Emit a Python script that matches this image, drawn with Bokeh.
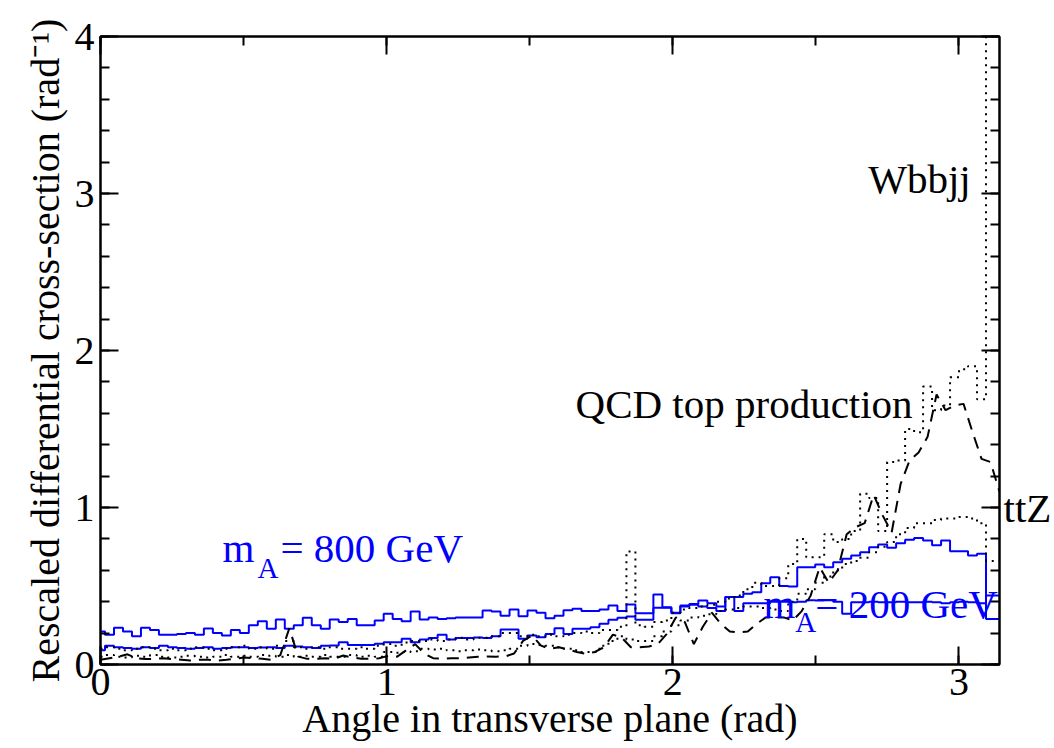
import numpy as np
from bokeh.plotting import figure
from bokeh.models import (Range1d, LinearAxis, Label, FixedTicker, ColumnDataSource,
                          CustomJSTickFormatter)
from bokeh.embed import file_html
from bokeh.resources import INLINE

# ---------------- data ----------------
n_bins = 101  # bins centred on k*pi/100
bin_centres = [k * np.pi / 100 for k in range(n_bins)]

signal_800 = [
    0.21, 0.19, 0.234, 0.21, 0.18, 0.234, 0.22, 0.19, 0.19, 0.195,
    0.20, 0.19, 0.23, 0.20, 0.185, 0.22, 0.20, 0.25, 0.275, 0.227,
    0.287, 0.227, 0.25, 0.297, 0.25, 0.227, 0.287, 0.27, 0.29, 0.25,
    0.25, 0.28, 0.323, 0.29, 0.275, 0.338, 0.287, 0.30, 0.29, 0.295,
    0.30, 0.30, 0.30, 0.344, 0.338, 0.31, 0.35, 0.308, 0.344, 0.33,
    0.295, 0.31, 0.345, 0.355, 0.34, 0.34, 0.35, 0.376, 0.34, 0.382,
    0.327, 0.327, 0.446, 0.365, 0.327, 0.376, 0.386, 0.408, 0.39, 0.37,
    0.43, 0.43, 0.45, 0.46, 0.518, 0.556, 0.50, 0.497, 0.62, 0.62,
    0.637, 0.62, 0.652, 0.673, 0.694, 0.715, 0.747, 0.764, 0.743, 0.773,
    0.794, 0.805, 0.79, 0.76, 0.79, 0.722, 0.722, 0.694, 0.705, 0.29,
    0.29,
]

signal_200 = [
    0.09, 0.12, 0.11, 0.105, 0.10, 0.11, 0.105, 0.12, 0.11, 0.105,
    0.10, 0.105, 0.11, 0.10, 0.105, 0.11, 0.11, 0.105, 0.108, 0.11,
    0.105, 0.12, 0.115, 0.11, 0.105, 0.12, 0.121, 0.142, 0.125, 0.125,
    0.125, 0.132, 0.142, 0.142, 0.164, 0.142, 0.159, 0.168, 0.189, 0.159,
    0.168, 0.168, 0.172, 0.168, 0.18, 0.223, 0.223, 0.164, 0.185, 0.174,
    0.195, 0.231, 0.195, 0.227, 0.227, 0.238, 0.259, 0.285, 0.297, 0.306,
    0.285, 0.285, 0.361, 0.361, 0.33, 0.37, 0.38, 0.37, 0.36, 0.34,
    0.43, 0.34, 0.39, 0.39, 0.39, 0.40, 0.40, 0.397, 0.40, 0.41,
    0.408, 0.41, 0.40, 0.323, 0.397, 0.397, 0.40, 0.397, 0.397, 0.40,
    0.397, 0.397, 0.40, 0.397, 0.39, 0.397, 0.40, 0.397, 0.39, 0.44,
    0.44,
]

wbbjj = [
    0.10, 0.11, 0.10, 0.09, 0.10, 0.11, 0.10, 0.09, 0.10, 0.09,
    0.10, 0.11, 0.10, 0.09, 0.10, 0.11, 0.12, 0.10, 0.11, 0.10,
    0.12, 0.15, 0.11, 0.10, 0.11, 0.10, 0.11, 0.10, 0.10, 0.11,
    0.10, 0.12, 0.13, 0.12, 0.14, 0.15, 0.15, 0.16, 0.15, 0.16,
    0.17, 0.16, 0.17, 0.17, 0.18, 0.20, 0.20, 0.18, 0.19, 0.18,
    0.19, 0.18, 0.19, 0.20, 0.21, 0.20, 0.22, 0.22, 0.24, 0.72,
    0.25, 0.24, 0.27, 0.28, 0.33, 0.35, 0.36, 0.37, 0.38, 0.40,
    0.42, 0.44, 0.48, 0.52, 0.50, 0.50, 0.55, 0.64, 0.80, 0.683,
    0.683, 0.83, 0.78, 0.80, 0.85, 1.087, 1.06, 0.85, 1.29, 1.30,
    1.50, 1.48, 1.77, 1.62, 1.65, 1.83, 1.88, 1.90, 1.69, 5.0,
    5.0,
]

ttz = [
    0.05, 0.06, 0.05, 0.045, 0.055, 0.05, 0.06, 0.05, 0.045, 0.05,
    0.055, 0.05, 0.045, 0.05, 0.06, 0.05, 0.055, 0.05, 0.06, 0.055,
    0.05, 0.06, 0.05, 0.055, 0.05, 0.06, 0.05, 0.05, 0.06, 0.05,
    0.055, 0.05, 0.08, 0.075, 0.08, 0.085, 0.10, 0.095, 0.10, 0.09,
    0.085, 0.09, 0.095, 0.09, 0.085, 0.09, 0.10, 0.12, 0.13, 0.125,
    0.12, 0.11, 0.10, 0.09, 0.08, 0.08, 0.12, 0.15, 0.18, 0.16,
    0.15, 0.15, 0.18, 0.21, 0.25, 0.28, 0.30, 0.31, 0.32, 0.34,
    0.35, 0.36, 0.37, 0.37, 0.36, 0.35, 0.34, 0.40, 0.45, 0.48,
    0.52, 0.56, 0.60, 0.64, 0.66, 0.68, 0.715, 0.75, 0.78, 0.83,
    0.87, 0.90, 0.90, 0.92, 0.93, 0.93, 0.94, 0.93, 0.90, 0.66,
    0.66,
]

qcd_top = [
    0.03, 0.04, 0.05, 0.065, 0.04, 0.035, 0.035, 0.04, 0.035, 0.03,
    0.025, 0.03, 0.03, 0.025, 0.03, 0.036, 0.045, 0.04, 0.036, 0.03,
    0.06, 0.23, 0.05, 0.036, 0.036, 0.04, 0.036, 0.057, 0.045, 0.036,
    0.036, 0.04, 0.055, 0.05, 0.09, 0.13, 0.07, 0.04, 0.036, 0.04,
    0.04, 0.045, 0.05, 0.051, 0.05, 0.051, 0.07, 0.15, 0.185, 0.12,
    0.10, 0.11, 0.095, 0.08, 0.068, 0.08, 0.11, 0.19, 0.17, 0.11,
    0.11, 0.115, 0.13, 0.196, 0.30, 0.27, 0.13, 0.24, 0.33, 0.26,
    0.21, 0.205, 0.21, 0.26, 0.30, 0.30, 0.30, 0.28, 0.34, 0.44,
    0.62, 0.52, 0.60, 0.83, 0.875, 0.90, 1.08, 0.95, 0.84, 1.15,
    1.30, 1.35, 1.45, 1.72, 1.62, 1.65, 1.66, 1.48, 1.31, 1.29,
    1.10,
]

x_major = [0, 1, 2, 3]
x_minor = [0, 0.5, 1, 1.5, 2, 2.5, 3]
y_major = [0, 1, 2, 3, 4]
y_minor = [round(0.2 * i, 1) for i in range(21)]

x_title = "Angle in transverse plane (rad)"
y_title = "Rescaled differential cross-section (rad\u207b\u00b9)"
right_labels = {1: "ttZ"}   # the ttZ curve name sits just outside the frame

# ---------------- figure ----------------
FONT = "Liberation Serif"
src = ColumnDataSource(dict(x=bin_centres, s800=signal_800, s200=signal_200,
                            wbbjj=wbbjj, ttz=ttz, qcd=qcd_top))

p = figure(width=1054, height=748, output_backend="svg", toolbar_location=None,
           x_range=Range1d(0, np.pi), y_range=Range1d(0, 4),
           min_border_left=100, min_border_right=55, min_border_top=36,
           min_border_bottom=84)
p.grid.visible = False
p.background_fill_color = "white"
p.border_fill_color = "white"
p.outline_line_color = "black"
p.outline_line_width = 2

xt = FixedTicker(ticks=x_major, minor_ticks=x_minor)
yt = FixedTicker(ticks=y_major, minor_ticks=y_minor)


def style_axis(ax, ticker):
    ax.ticker = ticker
    ax.axis_line_color = "black"
    ax.axis_line_width = 2
    ax.major_tick_in = 18
    ax.major_tick_out = 0
    ax.minor_tick_in = 9
    ax.minor_tick_out = 0
    ax.major_tick_line_width = 2
    ax.minor_tick_line_width = 2
    ax.major_tick_line_color = "black"
    ax.minor_tick_line_color = "black"
    ax.major_label_text_font = FONT
    ax.major_label_text_font_size = "40px"
    ax.major_label_text_color = "black"
    ax.axis_label_text_font = FONT
    ax.axis_label_text_font_size = "40px"
    ax.axis_label_text_font_style = "normal"
    ax.axis_label_text_color = "black"


xax = p.xaxis[0]
yax = p.yaxis[0]
style_axis(xax, xt)
style_axis(yax, yt)
xax.axis_label = x_title
xax.major_label_standoff = 4
xax.axis_label_text_line_height = 0.75
xax.axis_label_standoff = -2
yax.axis_label = y_title
yax.major_label_standoff = 6
yax.axis_label_standoff = 4

empty = CustomJSTickFormatter(code="return ''")
top_axis = LinearAxis(formatter=empty)
style_axis(top_axis, xt)
top_axis.major_label_standoff = 0
p.add_layout(top_axis, "above")

right_axis = LinearAxis()
style_axis(right_axis, yt)
right_axis.major_label_overrides = {k: right_labels.get(k, "") for k in y_major}
right_axis.major_label_text_font_size = "41px"
right_axis.major_label_standoff = 4
p.add_layout(right_axis, "right")

# ---------------- histograms ----------------
p.step("x", "s800", source=src, mode="center", line_color="#0000ff", line_width=2)
p.step("x", "s200", source=src, mode="center", line_color="#0000ff", line_width=2)
p.step("x", "wbbjj", source=src, mode="center", line_color="black", line_width=2,
       line_dash="2 5")
p.step("x", "ttz", source=src, mode="center", line_color="black", line_width=2,
       line_dash="2 5")
p.line("x", "qcd", source=src, line_color="black", line_width=2, line_dash="12 8")

# ---------------- annotations ----------------
def lab(x, y, text, size, color="black", **kw):
    l = Label(x=x, y=y, text=text, text_font=FONT, text_font_size=size,
              text_color=color, text_baseline="alphabetic", **kw)
    p.add_layout(l)
    return l

lab(0.426, 0.745, "m", "41px", "#0000ff")
lab(0.549, 0.616, "A", "29px", "#0000ff")
lab(0.629, 0.745, "= 800 GeV", "41px", "#0000ff")

lab(2.317, 0.385, "m", "41px", "#0000ff")
lab(2.428, 0.27, "A", "29px", "#0000ff")
lab(2.498, 0.385, "= 200 GeV", "41px", "#0000ff")

lab(1.660, 1.66, "QCD top production", "41px")
lab(2.683, 3.09, "Wbbjj", "41px")

open("out.html", "w").write(file_html(p, INLINE))
